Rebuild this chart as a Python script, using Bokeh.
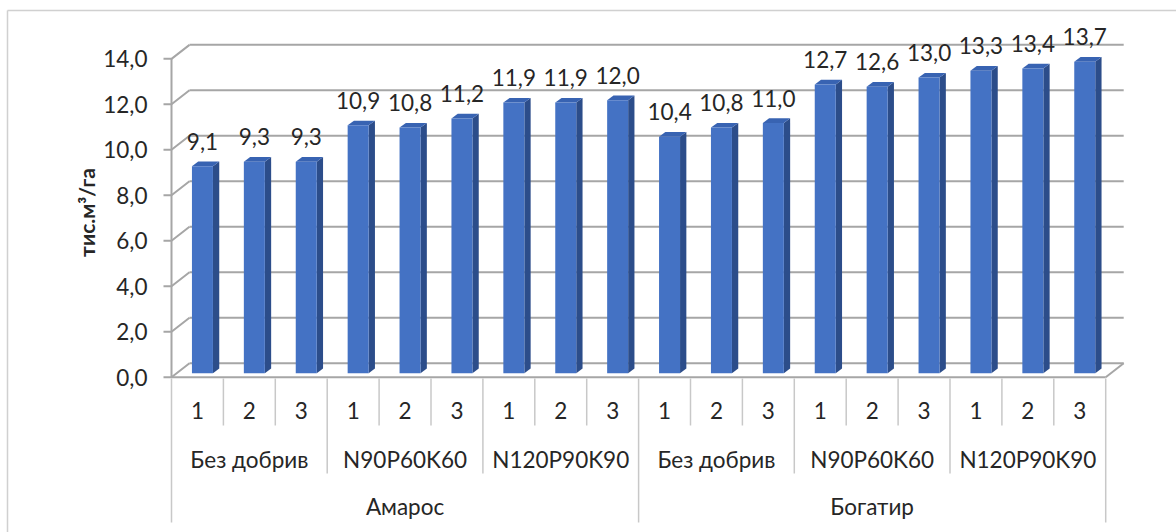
from bokeh.plotting import figure
from bokeh.models import Range1d, ColumnDataSource
from bokeh.core.properties import value
from bokeh.embed import file_html
from bokeh.resources import INLINE

# ---------------- data ----------------
varieties = ["Амарос", "Богатир"]
fertilizers = ["Без добрив", "N90P60K60", "N120P90K90"]
replicates = ["1", "2", "3"]
yields = [9.1, 9.3, 9.3, 10.9, 10.8, 11.2, 11.9, 11.9, 12.0,
          10.4, 10.8, 11.0, 12.7, 12.6, 13.0, 13.3, 13.4, 13.7]
y_ticks = [0, 2, 4, 6, 8, 10, 12, 14]
y_title = "тис.м³/га"

# ---------------- layout constants (pixels) ----------------
W, H = 1176, 532
PX0, UX = 171.0, 51.9      # x pixel of category 0 start, pixels per category
PY0, UY = 376.7, 22.74     # y pixel of value 0, pixels per unit

def dx(px):
    return px / UX

def dy(px):
    return px / UY

def X(px):
    return (px - PX0) / UX

def Y(py):
    return (PY0 - py) / UY

n = len(yields)
ymax = y_ticks[-1]

p = figure(width=W, height=H, output_backend="svg", toolbar_location=None,
           x_axis_location=None, y_axis_location=None, min_border=0,
           x_range=Range1d(X(0), X(W)), y_range=Range1d(Y(H), Y(0)),
           outline_line_color=None, background_fill_color="white",
           border_fill_color="white")
p.grid.grid_line_color = None

GRID = "#a6a6a6"
DIV = "#c8c8c8"
TXT = "#262626"
FONT = value("Lato")
FS = "22.5px"

# outer chart border
p.segment(x0=[X(7), X(7)], y0=[Y(10), Y(10)], x1=[X(W + 5), X(7)], y1=[Y(10), Y(H + 5)],
          line_color="#d0d0d0", line_width=1.5)

# 3D walls
bdx, bdy = dx(18), dy(14)
# back wall gridlines
p.segment(x0=[bdx] * len(y_ticks), y0=[t + bdy for t in y_ticks],
          x1=[n + bdx] * len(y_ticks), y1=[t + bdy for t in y_ticks],
          line_color=GRID, line_width=2)
# left wall tick + diagonals
p.multi_line(xs=[[dx(-8), 0, bdx] for t in y_ticks],
             ys=[[t, t, t + bdy] for t in y_ticks],
             line_color=GRID, line_width=2)
# front left vertical axis
p.segment(x0=[0], y0=[0], x1=[0], y1=[ymax], line_color=GRID, line_width=2)
# floor front line and right diagonal
p.segment(x0=[0, n], y0=[0, 0], x1=[n, n + bdx], y1=[0, bdy],
          line_color=GRID, line_width=2)

# category dividers
ng = len(replicates)
nf = len(fertilizers)
div_x, div_y0, div_y1 = [], [], []
for k in range(n + 1):
    if k % (ng * nf) == 0:
        end = Y(522)
    elif k % ng == 0:
        end = Y(473)
    else:
        end = Y(425)
    div_x.append(k)
    div_y0.append(Y(378))
    div_y1.append(end)
p.segment(x0=div_x, y0=div_y0, x1=div_x, y1=div_y1, line_color=DIV, line_width=1.5)

# bars (pseudo-3D)
shift, bw, base = dx(5), dx(21), dy(4)
ddx, ddy = dx(6.3), dy(4.7)
left = [i + 0.5 + shift - bw / 2 for i in range(n)]
right = [l + bw for l in left]
top = [v + base for v in yields]

side_xs = [[r, r + ddx, r + ddx, r] for r in right]
side_ys = [[base, base + ddy, t + ddy, t] for t in top]
top_xs = [[l, r, r + ddx, l + ddx] for l, r in zip(left, right)]
top_ys = [[t, t, t + ddy, t + ddy] for t in top]

p.patches(xs=side_xs, ys=side_ys, fill_color="#2c4d8a", line_color=None)
p.patches(xs=top_xs, ys=top_ys, fill_color="#3863b2", line_color=None)
p.quad(left=left, right=right, bottom=[base] * n, top=top,
       fill_color="#4472c4", line_color=None)

# data labels
lab = ColumnDataSource(dict(
    x=[(l + r) / 2 for l, r in zip(left, right)],
    y=[t + dy(25) for t in top],
    t=[f"{v:.1f}".replace(".", ",") for v in yields]))
p.text(x="x", y="y", text="t", source=lab, text_font=FONT, text_font_size=FS,
       text_color=TXT, text_align="center", text_baseline="middle")

# y tick labels
p.text(x=[X(147)] * len(y_ticks), y=y_ticks,
       text=[f"{t:.1f}".replace(".", ",") for t in y_ticks],
       text_font=FONT, text_font_size=FS, text_color=TXT,
       text_align="right", text_baseline="middle")

# y title
p.text(x=[X(86)], y=[Y(212)], text=[y_title], angle=1.5708,
       text_font=FONT, text_font_size="21px", text_font_style="bold",
       text_color=TXT, text_align="center", text_baseline="middle")

# category labels: replicate, fertilizer, variety
rep_x = [i + 0.5 for i in range(n)]
rep_t = [replicates[i % ng] for i in range(n)]
p.text(x=rep_x, y=[Y(410)] * n, text=rep_t, text_font=FONT, text_font_size=FS,
       text_color=TXT, text_align="center", text_baseline="middle")

fer_x = [g * ng + ng / 2 for g in range(len(varieties) * nf)]
fer_t = [fertilizers[g % nf] for g in range(len(varieties) * nf)]
p.text(x=fer_x, y=[Y(459)] * len(fer_x), text=fer_t, text_font=FONT,
       text_font_size=FS, text_color=TXT, text_align="center", text_baseline="middle")

var_x = [v * ng * nf + ng * nf / 2 for v in range(len(varieties))]
p.text(x=var_x, y=[Y(506)] * len(varieties), text=varieties, text_font=FONT,
       text_font_size=FS, text_color=TXT, text_align="center", text_baseline="middle")

open("out.html", "w").write(file_html(p, INLINE))
